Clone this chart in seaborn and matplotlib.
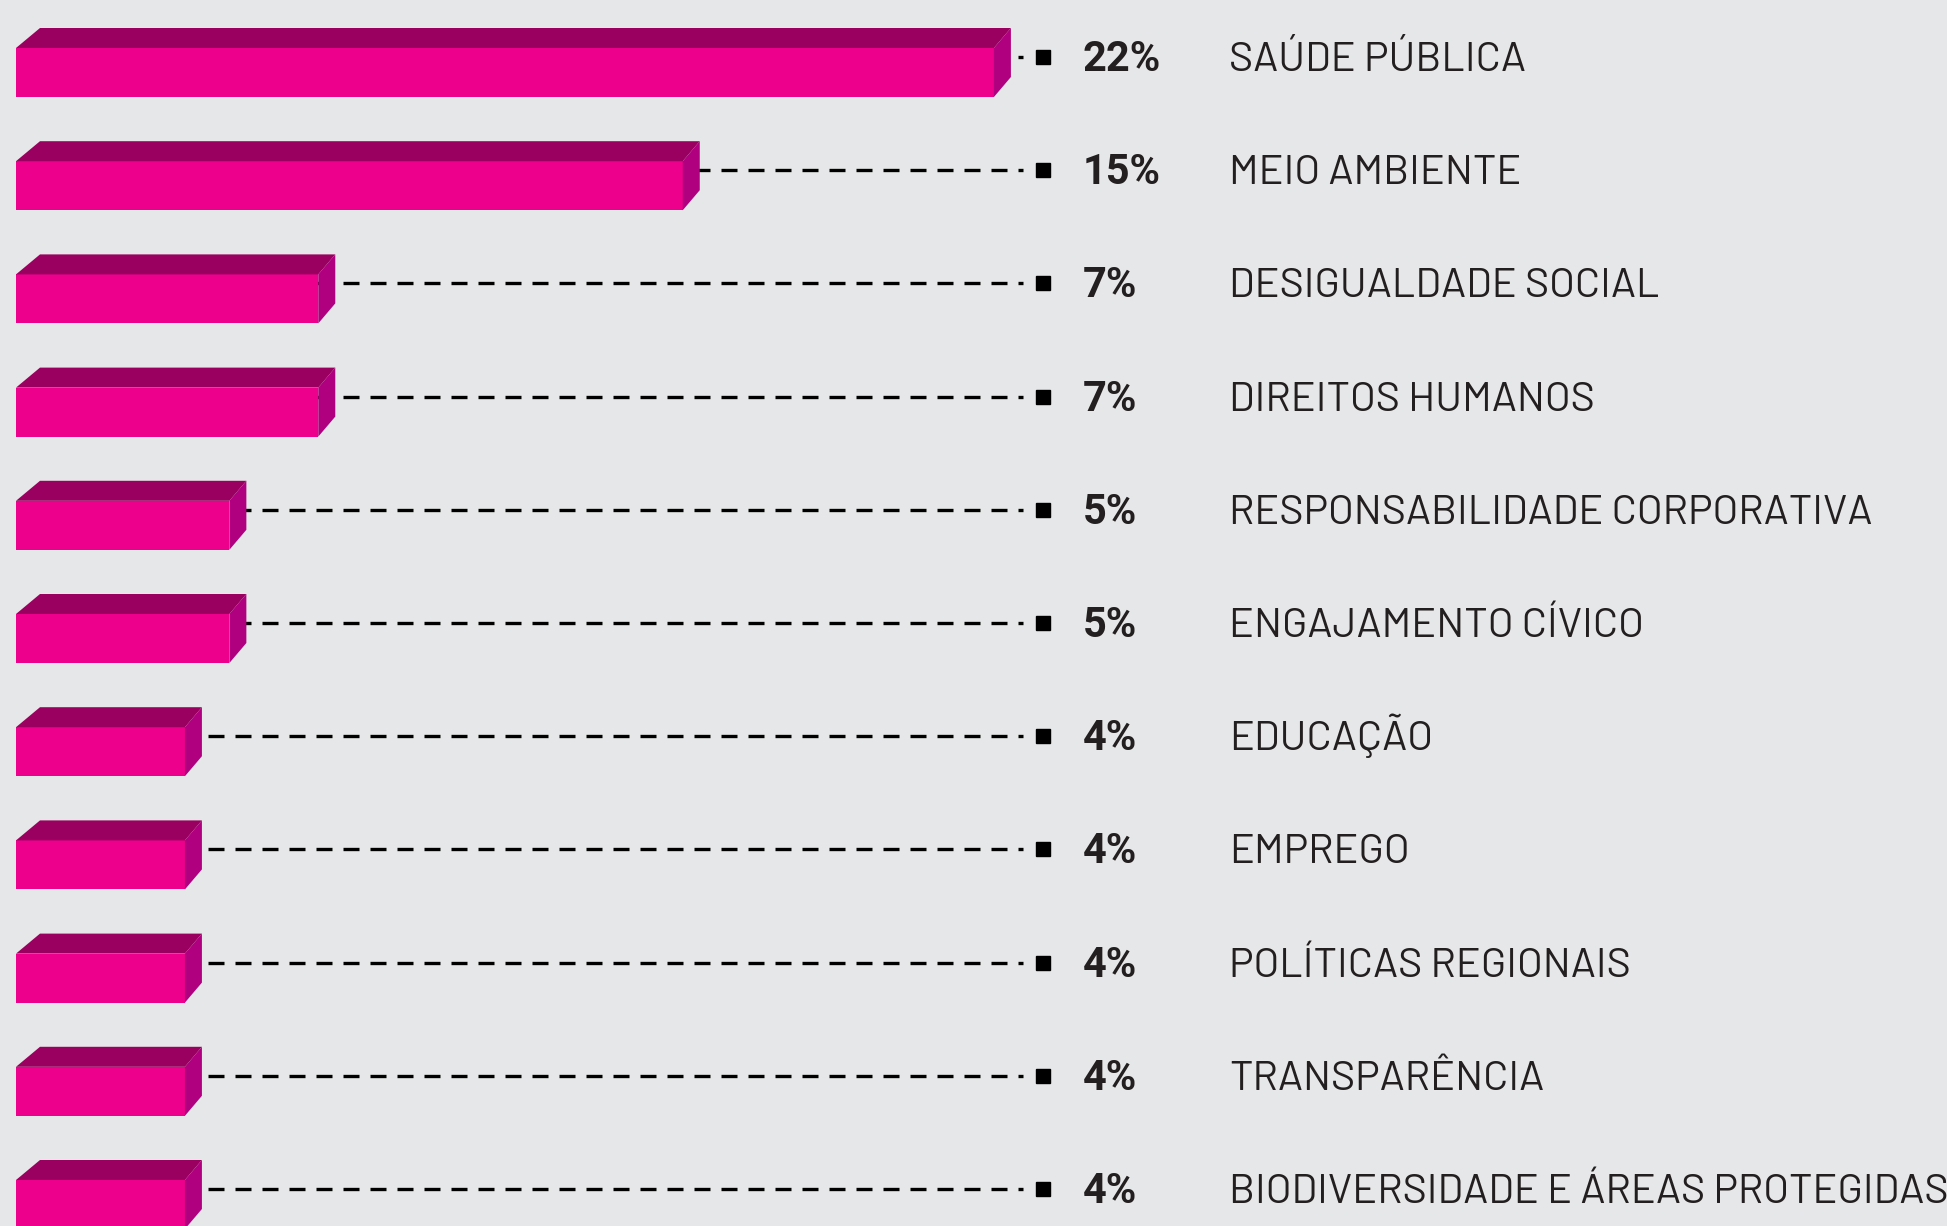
import matplotlib
matplotlib.use('Agg')
import matplotlib.pyplot as plt
import seaborn as sns
from matplotlib.font_manager import FontProperties
from matplotlib.textpath import TextPath

# data
categories = ['SAÚDE PÚBLICA', 'MEIO AMBIENTE', 'DESIGUALDADE SOCIAL', 'DIREITOS HUMANOS',
              'RESPONSABILIDADE CORPORATIVA', 'ENGAJAMENTO CÍVICO', 'EDUCAÇÃO', 'EMPREGO',
              'POLÍTICAS REGIONAIS', 'TRANSPARÊNCIA', 'BIODIVERSIDADE E ÁREAS PROTEGIDAS']
values = [22, 15, 6.8, 6.8, 4.8, 4.8, 3.8, 3.8, 3.8, 3.8, 3.8]
value_labels = ['22%', '15%', '7%', '7%', '5%', '5%', '4%', '4%', '4%', '4%', '4%']

bg = '#E6E7E8'
front = '#EC008C'
top_col = '#99005F'
side_col = '#B0007F'
txt_col = '#231F20'

W, H = 1947, 1226
sx = 44.45     # pixels per percent
sy = 113.2     # pixels per row


def fit_font(families, weight, sample, cap_px, target_px):
    # pick the family whose width is closest to the reference at the given cap height
    best = None
    for fam in families:
        fp = FontProperties(family=fam, weight=weight)
        ext_h = TextPath((0, 0), 'H', size=1, prop=fp).get_extents().height
        size_px = cap_px / ext_h
        wid = TextPath((0, 0), sample, size=1, prop=fp).get_extents().width * size_px
        if best is None or abs(wid - target_px) < best[0]:
            best = (abs(wid - target_px), fp, size_px * 0.72)
    return best[1], best[2]


cands = ['Barlow', 'Barlow Semi Condensed', 'Roboto Condensed', 'Roboto']
fp_reg, fs_reg = fit_font(cands, 'normal', 'RESPONSABILIDADE CORPORATIVA', 29, 636)
fp_bold, fs_bold = fit_font(cands, 'bold', '22%', 29.5, 76)

sns.set_theme(style='white')
fig = plt.figure(figsize=(W / 100, H / 100), dpi=100, facecolor=bg)
ax = fig.add_axes([0, 0, 1, 1])
ax.set_facecolor(bg)

bar_h = 49 / sy
sns.barplot(x=values, y=categories, orient='h', color=front, saturation=1,
            width=bar_h, linewidth=0, ax=ax, zorder=2)

# 3d faces and leader lines
dxl, dxr, dy = 24 / sx, 17 / sx, 20 / sy
for i, v in enumerate(values):
    t, b = i - bar_h / 2, i + bar_h / 2
    ax.fill([0, dxl, v + dxr, v], [t, t - dy, t - dy, t], color=top_col, lw=0, zorder=2)
    ax.fill([v, v + dxr, v + dxr, v], [t, t - dy, b - dy, b], color=side_col, lw=0, zorder=2)
    ly = i - 15.5 / sy
    ax.plot([3 / sx, (1023 - 16) / sx], [ly, ly], color='black', lw=2.4,
            linestyle=(0, (4.8, 3.3)), dash_capstyle='butt', zorder=0.5)

yt = ax.get_yaxis_transform()
for i, (cat, lab) in enumerate(zip(categories, value_labels)):
    ly = i - 15.5 / sy
    ax.plot([1043 / W], [ly], marker='s', ms=10, color='black', transform=yt, zorder=3)
    ax.text(1083 / W, i - 1.5 / sy, lab, transform=yt, fontproperties=fp_bold,
            fontsize=fs_bold, color=txt_col, va='baseline', ha='left')
    ax.text(1229 / W, i - 1.5 / sy, cat, transform=yt, fontproperties=fp_reg,
            fontsize=fs_reg, color=txt_col, va='baseline', ha='left')

ax.set_xlim(-16 / sx, (W - 16) / sx)
ax.set_ylim((H - 72.5) / sy, -72.5 / sy)
ax.axis('off')

fig.savefig('out.png', dpi=100, facecolor=bg)
